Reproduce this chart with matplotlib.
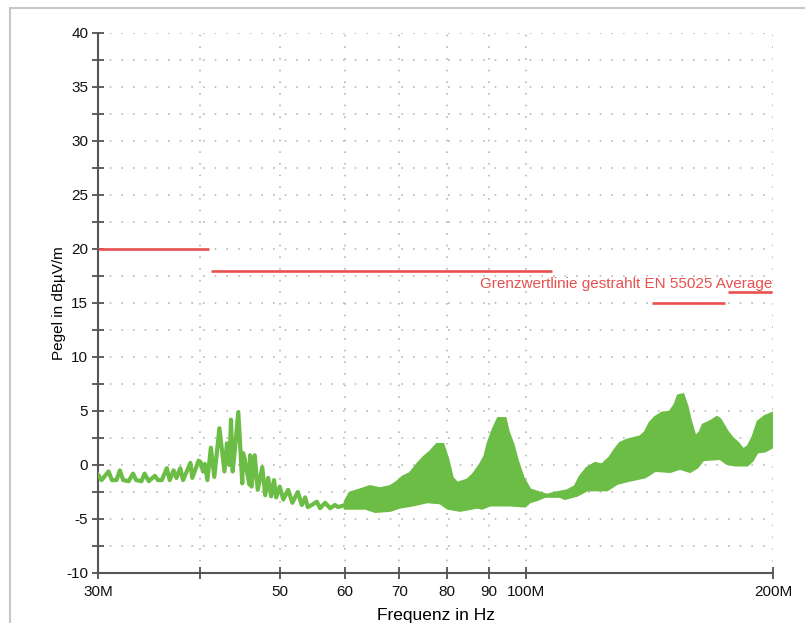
import numpy as np
import matplotlib.pyplot as plt
from matplotlib.ticker import MultipleLocator, NullLocator
from matplotlib.patches import Rectangle

plt.rcParams['font.family'] = ['Liberation Sans', 'DejaVu Sans']
plt.rcParams['axes.unicode_minus'] = False

# Messkurve 30..60 MHz (einzelne Spitzen), Frequenz in MHz, Pegel in dBuV/m
f_trace = [30.0, 30.3, 30.9, 31.2, 31.6, 31.9, 32.2, 32.7, 33.1, 33.4, 33.9, 34.2,
           34.6, 35.2, 35.5, 35.9, 36.4, 36.7, 37.1, 37.4, 37.8, 38.1, 38.9, 39.1,
           39.8, 40.0, 40.3, 40.5, 40.8, 41.2, 41.6, 42.2, 42.5, 42.8, 43.1, 43.4,
           43.6, 43.8, 44.1, 44.5, 45.0, 45.1, 45.3, 45.9, 46.0, 46.2, 46.6, 47.0,
           47.6, 48.0, 48.4, 48.8, 49.2, 49.5, 50.0, 50.5, 51.2, 51.8, 52.6, 53.2,
           53.7, 54.1, 54.7, 55.5, 56.0, 56.8, 57.6, 58.4, 58.9, 60.1, 60.6]
p_trace = [-0.9, -1.4, -0.6, -1.4, -1.4, -0.5, -1.4, -1.5, -0.8, -1.4, -1.5, -0.8,
           -1.5, -1.0, -1.4, -1.4, -0.3, -1.4, -0.5, -1.2, -0.3, -1.4, 0.2, -1.2,
           0.4, 0.3, -0.6, 0.1, -1.4, 1.6, -1.1, 3.4, 1.4, -0.6, 2.0, 0.0,
           4.2, -0.6, 1.6, 4.9, -1.7, 1.1, 0.6, -1.8, 0.9, -2.0, 0.9, -2.3,
           -0.2, -2.8, -1.2, -2.9, -1.4, -3.0, -2.0, -3.2, -2.3, -3.5, -2.5, -3.7,
           -3.0, -3.9, -3.7, -3.4, -4.0, -3.5, -4.0, -3.7, -3.9, -3.7, -3.4]

# 60..200 MHz: obere und untere Huellkurve
f_upper = [60.1, 60.9, 62.7, 64.4, 66.3, 68.2, 69.5, 70.7, 72.1, 73.8, 75.2, 76.3,
           77.8, 79.1, 80.2, 81.2, 82.3, 84.7, 86.1, 87.8, 89.0, 89.8, 91.1, 92.4,
           94.2, 95.0, 96.3, 97.4, 99.1, 101.0, 103.9, 106.0, 108.4, 112.1, 114.7,
           116.3, 118.6, 121.3, 123.7, 126.5, 128.3, 130.1, 132.7, 137.7, 139.6,
           141.6, 143.6, 146.4, 149.8, 151.9, 153.2, 155.3, 157.1, 158.4, 160.7,
           162.9, 164.3, 167.6, 170.9, 172.4, 175.8, 178.3, 181.3, 183.9, 186.5,
           189.1, 191.8, 195.6, 200.0]
p_upper = [-3.4, -2.6, -2.3, -2.0, -2.2, -2.0, -1.6, -1.1, -0.8, 0.15, 0.8, 1.2,
           1.9, 1.9, 0.5, -1.2, -1.7, -1.4, -0.9, 0.0, 0.8, 2.0, 3.3, 4.3,
           4.3, 3.1, 1.9, 0.5, -1.2, -2.3, -2.6, -2.8, -2.6, -2.4, -2.0,
           -1.1, -0.3, 0.15, 0.0, 0.7, 1.4, 2.0, 2.3, 2.6, 3.0,
           3.9, 4.4, 4.8, 4.9, 5.6, 6.4, 6.5, 5.4, 4.2, 2.6,
           3.0, 3.7, 4.0, 4.4, 4.2, 3.1, 2.5, 2.0, 1.4, 1.7,
           2.6, 4.0, 4.5, 4.8]
f_lower = [60.1, 61.8, 63.6, 65.4, 68.2, 70.1, 72.7, 75.7, 78.5, 80.2, 83.0, 87.1,
           88.3, 90.3, 95.5, 99.6, 101.0, 103.1, 105.4, 109.9, 111.5, 115.3, 118.6,
           125.5, 129.0, 133.8, 139.6, 143.6, 149.8, 154.0, 158.4, 161.6, 164.3,
           172.4, 175.8, 179.8, 186.0, 188.6, 191.3, 195.6, 200.0]
p_lower = [-4.0, -4.0, -4.0, -4.3, -4.2, -3.9, -3.7, -3.4, -3.5, -4.0, -4.2, -3.9,
           -4.0, -3.7, -3.7, -3.8, -3.4, -3.2, -2.9, -2.9, -3.1, -2.8, -2.3,
           -2.3, -1.7, -1.4, -1.1, -0.5, -0.6, -0.3, -0.6, -0.2, 0.5,
           0.6, 0.15, 0.0, 0.0, 0.4, 1.2, 1.3, 1.7]

# Grenzwertlinie (Start, Ende in MHz, Pegel)
lim_start = [30.0, 41.2, 142.4, 176.3]
lim_end = [41.0, 107.5, 174.8, 199.5]
lim_level = [20, 18, 15, 16]

green = '#6cbd45'
red = '#e8504f'

fig = plt.figure(figsize=(8.05, 6.23), dpi=100)
fig.patches.append(Rectangle((10 / 805, -0.1), 1.0, 1 - 8 / 623 + 0.1,
                             transform=fig.transFigure, fill=False,
                             edgecolor='#c8c8c8', lw=1.5))
ax = fig.add_axes([98 / 805, 1 - 573 / 623, 675 / 805, 540 / 623])

ax.set_xscale('log')
ax.set_xlim(30, 200)
ax.set_ylim(-10, 40)

ax.plot(f_trace, p_trace, color=green, lw=3.0, solid_joinstyle='round', zorder=3)
ax.fill(np.r_[f_upper, f_lower[::-1]], np.r_[p_upper, p_lower[::-1]],
        color=green, lw=2.2, zorder=3)

for a, b, l in zip(lim_start, lim_end, lim_level):
    ax.plot([a, b], [l, l], color=red, lw=1.9, solid_capstyle='butt', zorder=4)
ax.text(199.5, 16.75, 'Grenzwertlinie gestrahlt EN 55025 Average', color=red,
        fontsize=11, ha='right', va='center', zorder=5)

xt = [30, 40, 50, 60, 70, 80, 90, 100, 200]
xl = ['30M', '', '50', '60', '70', '80', '90', '100M', '200M']
ax.set_xticks(xt)
ax.set_xticklabels(xl)
ax.xaxis.set_minor_locator(NullLocator())
ax.yaxis.set_major_locator(MultipleLocator(5))
ax.yaxis.set_minor_locator(MultipleLocator(2.5))

ax.tick_params(which='both', direction='inout', length=8, width=1.2,
               color='#444444', labelsize=11, labelcolor='#111111')
ax.tick_params(axis='y', pad=3)
ax.tick_params(axis='x', pad=5)

ax.grid(True, which='both', color='#b8b8b8', linestyle=(0, (1, 6)), lw=1.2)
ax.spines['top'].set_visible(False)
ax.spines['right'].set_visible(False)
for s in ['left', 'bottom']:
    ax.spines[s].set_color('#555555')
    ax.spines[s].set_linewidth(1.5)

ax.set_xlabel('Frequenz in Hz', fontsize=12.5, labelpad=6)
ax.set_ylabel('Pegel in dBµV/m', fontsize=11, labelpad=0)

fig.savefig('out.png', dpi=100)
